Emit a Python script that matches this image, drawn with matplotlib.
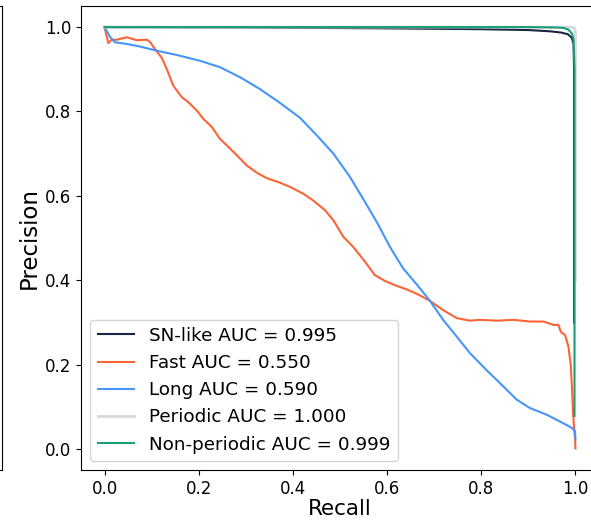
import matplotlib
matplotlib.use("Agg")
import matplotlib.pyplot as plt

# Precision-recall curves per class
sn_recall = [0.0, 0.3, 0.6, 0.8, 0.9, 0.946, 0.97, 0.984, 0.992, 0.996, 0.997, 0.997]
sn_prec = [1.0, 0.999, 0.997, 0.995, 0.993, 0.990, 0.987, 0.983, 0.975, 0.96, 0.9, 0.3]

fast_recall = [0.0, 0.008, 0.015, 0.026, 0.047, 0.068, 0.090, 0.097, 0.107, 0.121,
               0.132, 0.146, 0.164, 0.178, 0.196, 0.210, 0.228, 0.245, 0.263, 0.281,
               0.302, 0.323, 0.344, 0.373, 0.394, 0.422, 0.443, 0.468, 0.486, 0.507,
               0.528, 0.553, 0.574, 0.596, 0.617, 0.642, 0.666, 0.691, 0.719, 0.748,
               0.776, 0.797, 0.833, 0.868, 0.903, 0.932, 0.953, 0.964, 0.969, 0.978,
               0.985, 0.990, 0.993, 0.995, 0.999, 1.0]
fast_prec = [1.0, 0.962, 0.970, 0.970, 0.976, 0.969, 0.970, 0.964, 0.948, 0.928,
             0.901, 0.861, 0.834, 0.822, 0.802, 0.782, 0.763, 0.735, 0.716, 0.696,
             0.672, 0.655, 0.642, 0.631, 0.621, 0.605, 0.589, 0.566, 0.542, 0.503,
             0.479, 0.444, 0.412, 0.398, 0.388, 0.378, 0.366, 0.351, 0.329, 0.310,
             0.304, 0.306, 0.304, 0.306, 0.302, 0.302, 0.294, 0.294, 0.277, 0.270,
             0.243, 0.199, 0.136, 0.081, 0.026, 0.001]

long_recall = [0.0, 0.012, 0.022, 0.047, 0.075, 0.111, 0.153, 0.203, 0.245, 0.288,
               0.330, 0.373, 0.415, 0.451, 0.486, 0.521, 0.549, 0.578, 0.606, 0.634,
               0.663, 0.691, 0.719, 0.748, 0.776, 0.811, 0.847, 0.875, 0.903, 0.939,
               0.974, 0.992, 0.999, 1.0]
long_prec = [1.0, 0.976, 0.964, 0.960, 0.954, 0.944, 0.934, 0.920, 0.905, 0.881,
             0.853, 0.820, 0.785, 0.743, 0.700, 0.645, 0.593, 0.538, 0.479, 0.428,
             0.390, 0.351, 0.306, 0.266, 0.227, 0.187, 0.148, 0.117, 0.097, 0.081,
             0.061, 0.050, 0.042, 0.022]

per_recall = [0.0, 0.99, 0.998, 1.0, 1.0]
per_prec = [1.0, 1.0, 0.998, 0.99, 0.4]

nonper_recall = [0.0, 0.5, 0.9, 0.96, 0.975, 0.985, 0.993, 0.996, 0.998, 0.998]
nonper_prec = [1.0, 1.0, 1.0, 0.999, 0.998, 0.994, 0.984, 0.97, 0.9, 0.078]

labels = ["SN-like AUC = 0.995", "Fast AUC = 0.550", "Long AUC = 0.590",
          "Periodic AUC = 1.000", "Non-periodic AUC = 0.999"]
colors = ["#1c2541", "#fa6436", "#4595fb", "#d8d8d8", "#1a9e78"]

W, H = 591, 524
fig = plt.figure(figsize=(W / 100, H / 100), dpi=100)

# neighbouring panel (only its right edge is in view)
left_ax = fig.add_axes([-0.4, 54 / H, 0.4 + 2 / W, 464 / H])
left_ax.set_xticks([])
left_ax.set_yticks([])

ax = fig.add_axes([81 / W, 54 / H, 518 / W, 464 / H])
curves = [(sn_recall, sn_prec), (fast_recall, fast_prec), (long_recall, long_prec),
          (per_recall, per_prec), (nonper_recall, nonper_prec)]
for (r, p), lab, col in zip(curves, labels, colors):
    lw = 2.0 if col == "#d8d8d8" else 1.5
    ax.plot(r, p, color=col, lw=lw, label=lab)

ax.set_xlim(-0.05, 1.05)
ax.set_ylim(-0.05, 1.05)
ax.set_xticks([0.0, 0.2, 0.4, 0.6, 0.8, 1.0])
ax.set_yticks([0.0, 0.2, 0.4, 0.6, 0.8, 1.0])
ax.tick_params(labelsize=12)
ax.set_xlabel("Recall", fontsize=15.5, labelpad=1)
ax.set_ylabel("Precision", fontsize=16.5, labelpad=3)
ax.legend(loc="lower left", fontsize=13.2)

fig.savefig("out.png", dpi=100)
